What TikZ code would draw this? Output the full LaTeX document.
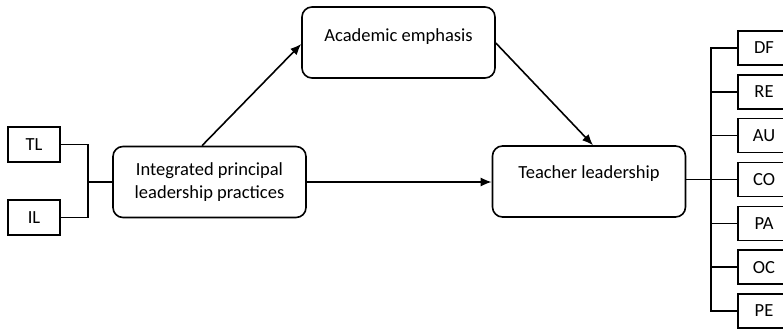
\documentclass[tikz,border=0pt]{standalone}
\usepackage{fontspec}
\setmainfont{Carlito}
\usetikzlibrary{arrows.meta}

\begin{document}
\begin{tikzpicture}[x=1pt,y=-1pt,->,>={Latex[length=11pt,width=9pt]},line width=1.6pt,font=\fontsize{18.5}{22.5}\selectfont,
  main box/.style={draw,rounded corners=10pt,minimum width=193pt,minimum height=71pt,inner sep=0pt,align=center},
  small box/.style={draw,minimum width=52pt,minimum height=35pt,inner sep=0pt}]
  \useasboundingbox (0,0) rectangle (783,329);

  \node[small box] (TL) at (34,144.5) {TL};
  \node[small box] (IL) at (34,217.5) {IL};
  \node[main box] (iplp) at (209.5,182) {Integrated principal\\leadership practices};
  \node[main box] (ae) at (398.5,42.5) {};
  \node (aetext) at (398.5,37) {Academic emphasis};
  \node[main box] (tldr) at (589,181.5) {};
  \node (tldrtext) at (589,174) {Teacher leadership};

  \foreach \lab [count=\i from 0] in {DF,RE,AU,CO,PA,OC,PE}
    \node[small box,minimum width=52pt,minimum height=34pt] (\lab) at (764,48+43.83*\i) {\lab};

  \coordinate (lbus) at (88,0);
  \coordinate (rbus) at (711,0);

\path
  (iplp.north -| 202,0) edge (ae.west |- 0,44)
  (ae.east |- 0,43) edge (tldr.north -| 593,0)
  (iplp.east) edge (tldr.west |- iplp.east)
;
\draw[-] (TL.east) -- (TL.east -| lbus) -- (IL.east -| lbus) -- (IL.east);
\draw[-] (iplp.west) -- (iplp.west -| lbus);
\draw[-] (DF.west) -- (DF.west -| rbus) -- (PE.west -| rbus) -- (PE.west);
\draw[-] (tldr.east |- CO.west) -- (CO.west);
\foreach \lab in {RE,AU,PA,OC}
  \draw[-] (\lab.west) -- (\lab.west -| rbus);
\end{tikzpicture}
\end{document}
